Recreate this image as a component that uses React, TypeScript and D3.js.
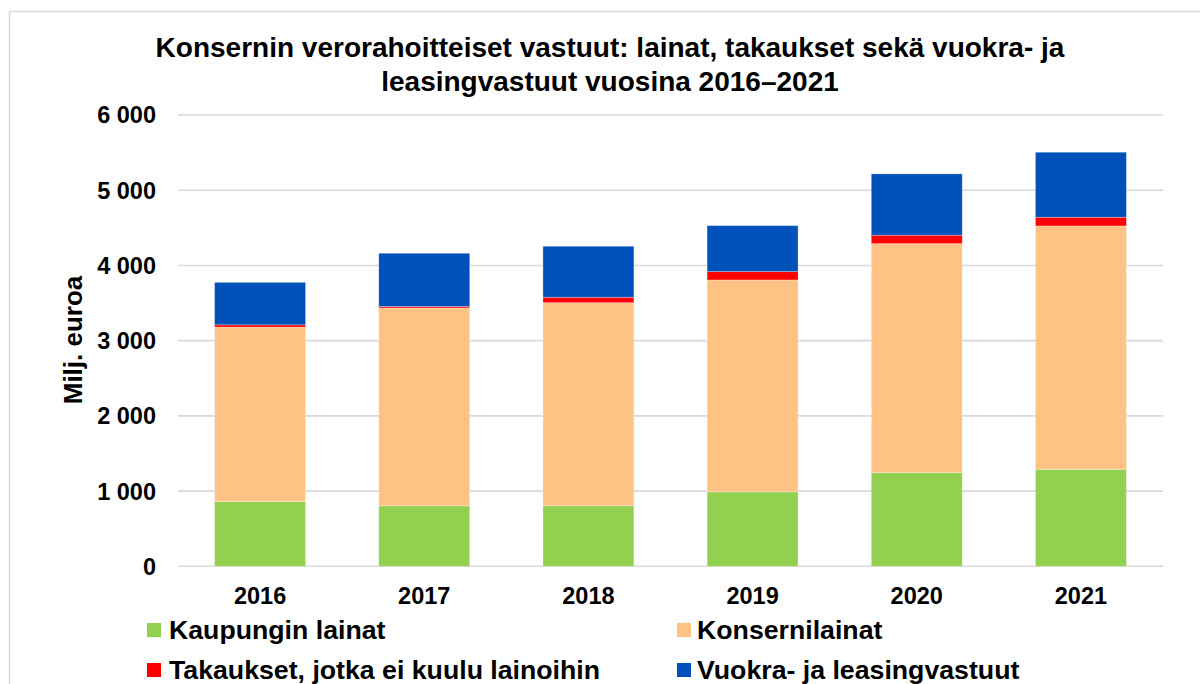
import React from "react";
import * as d3 from "d3";

const years = ["2016", "2017", "2018", "2019", "2020", "2021"];
const kaupunginLainat = [860, 805, 805, 990, 1245, 1290];
const konsernilainat = [2320, 2630, 2700, 2817, 3045, 3235];
const takaukset = [30, 20, 72, 111, 112, 116];
const vuokraLeasing = [565, 707, 678, 611, 815, 864];
const yTicks = [0, 1000, 2000, 3000, 4000, 5000, 6000];

const seriesNames = [
  "Kaupungin lainat",
  "Konsernilainat",
  "Takaukset, jotka ei kuulu lainoihin",
  "Vuokra- ja leasingvastuut",
];
const seriesColors = ["#92d050", "#ffc285", "#ff0000", "#0052ba"];

const W = 1200;
const H = 684;
const FONT = "'Liberation Sans', Arial, sans-serif";

export default function App() {
  const x = d3
    .scaleBand<string>()
    .domain(years)
    .range([178, 1163])
    .paddingInner(0.446)
    .paddingOuter(0.223);
  const y = d3.scaleLinear().domain([0, 6000]).range([566.3, 115]);

  const rows = years.map((yr, i) => ({
    year: yr,
    s0: kaupunginLainat[i],
    s1: konsernilainat[i],
    s2: takaukset[i],
    s3: vuokraLeasing[i],
  }));
  const stack = d3.stack<any>().keys(["s0", "s1", "s2", "s3"]);
  const layers = stack(rows);
  const fmt = (v: number) => d3.format(",")(v).replace(/,/g, " ");

  const legendPos = [
    { mx: 147, my: 623, tx: 169, ty: 639 },
    { mx: 677, my: 623, tx: 697, ty: 639 },
    { mx: 147, my: 663, tx: 169, ty: 679 },
    { mx: 677, my: 663, tx: 697, ty: 679 },
  ];

  return (
    <svg
      width={W}
      height={H}
      style={{ position: "absolute", left: 0, top: 0, background: "#fff" }}
      fontFamily={FONT}
    >
      <rect x={0} y={0} width={W} height={H} fill="#fff" />
      <rect
        x={9.5}
        y={11.5}
        width={1400}
        height={1000}
        fill="none"
        stroke="#d9d9d9"
        strokeWidth={1.5}
      />
      <text
        x={610}
        y={57}
        textAnchor="middle"
        fontWeight="bold"
        fontSize={28}
        fill="#000"
      >
        Konsernin verorahoitteiset vastuut: lainat, takaukset sekä vuokra- ja
      </text>
      <text
        x={610}
        y={91}
        textAnchor="middle"
        fontWeight="bold"
        fontSize={28}
        fill="#000"
      >
        leasingvastuut vuosina 2016–2021
      </text>

      {yTicks.map((t) => (
        <g key={t}>
          <line
            x1={178}
            x2={1163}
            y1={y(t)}
            y2={y(t)}
            stroke="#d9d9d9"
            strokeWidth={1.6}
          />
          <text
            x={156}
            y={y(t)}
            dy="0.36em"
            textAnchor="end"
            fontWeight="bold"
            fontSize={23.5}
            fill="#000"
          >
            {fmt(t)}
          </text>
        </g>
      ))}

      <text
        transform={`translate(82,340) rotate(-90)`}
        textAnchor="middle"
        fontWeight="bold"
        fontSize={26}
        fill="#000"
      >
        Milj. euroa
      </text>

      {layers.map((layer, li) => (
        <g key={li} fill={seriesColors[li]}>
          {layer.map((d, i) => (
            <rect
              key={i}
              x={x(years[i])!}
              width={x.bandwidth()}
              y={y(d[1])}
              height={Math.max(0, y(d[0]) - y(d[1]))}
              stroke="#ffffff"
              strokeOpacity={0.35}
              strokeWidth={0.8}
            />
          ))}
        </g>
      ))}

      {years.map((yr) => (
        <text
          key={yr}
          x={x(yr)! + x.bandwidth() / 2}
          y={604}
          textAnchor="middle"
          fontWeight="bold"
          fontSize={23.5}
          fill="#000"
        >
          {yr}
        </text>
      ))}

      {seriesNames.map((name, i) => (
        <g key={name}>
          <rect
            x={legendPos[i].mx}
            y={legendPos[i].my}
            width={14}
            height={14}
            fill={seriesColors[i]}
          />
          <text
            x={legendPos[i].tx}
            y={legendPos[i].ty}
            fontWeight="bold"
            fontSize={26.7}
            fill="#000"
          >
            {name}
          </text>
        </g>
      ))}
    </svg>
  );
}
